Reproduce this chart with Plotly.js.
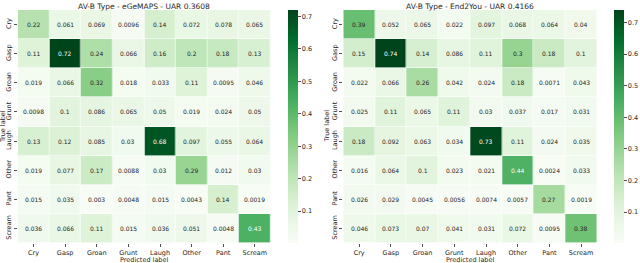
<!DOCTYPE html>
<html><head><meta charset="utf-8">
<script src="https://cdn.plot.ly/plotly-3.0.1.min.js"></script>
<style>html,body{margin:0;padding:0;background:#fff}#chart{width:640px;height:263px}</style>
</head><body><div id="chart"></div>
<script>
const labels = ["Cry","Gasp","Groan","Grunt","Laugh","Other","Pant","Scream"];
const egemaps = [
  [0.22, 0.061, 0.069, 0.0096, 0.14, 0.072, 0.078, 0.065],
  [0.11, 0.72, 0.24, 0.066, 0.16, 0.2, 0.18, 0.13],
  [0.019, 0.066, 0.32, 0.018, 0.033, 0.11, 0.0095, 0.046],
  [0.0098, 0.1, 0.086, 0.065, 0.05, 0.019, 0.024, 0.05],
  [0.13, 0.12, 0.085, 0.03, 0.68, 0.097, 0.055, 0.064],
  [0.019, 0.077, 0.17, 0.0088, 0.03, 0.29, 0.012, 0.03],
  [0.015, 0.035, 0.003, 0.0048, 0.015, 0.0043, 0.14, 0.0019],
  [0.036, 0.066, 0.11, 0.015, 0.036, 0.051, 0.0048, 0.43]
];
const end2you = [
  [0.39, 0.052, 0.065, 0.022, 0.097, 0.068, 0.064, 0.04],
  [0.15, 0.74, 0.14, 0.086, 0.11, 0.3, 0.18, 0.1],
  [0.022, 0.066, 0.26, 0.042, 0.024, 0.18, 0.0071, 0.043],
  [0.025, 0.11, 0.065, 0.11, 0.03, 0.037, 0.017, 0.031],
  [0.18, 0.092, 0.063, 0.034, 0.73, 0.11, 0.024, 0.035],
  [0.016, 0.064, 0.1, 0.023, 0.021, 0.44, 0.0024, 0.033],
  [0.026, 0.029, 0.0045, 0.0056, 0.0074, 0.0057, 0.27, 0.0019],
  [0.046, 0.073, 0.07, 0.041, 0.031, 0.072, 0.0095, 0.38]
];
const titles = ["AV-B Type - eGeMAPS - UAR 0.3608", "AV-B Type - End2You - UAR 0.4166"];
const xTitle = "Predicted label", yTitle = "True label";
const cbTicks = [0.1,0.2,0.3,0.4,0.5,0.6,0.7];

const greens = [[0,'#f7fcf5'],[0.125,'#e5f5e0'],[0.25,'#c7e9c0'],[0.375,'#a1d99b'],[0.5,'#74c476'],[0.625,'#41ab5d'],[0.75,'#238b45'],[0.875,'#006d2c'],[1,'#00441b']];
const FONT = 'DejaVu Sans, sans-serif';
const W=640,H=263;
const yBot = 1-243/H, yTop = 1-10/H;
const panels = [
  {m: egemaps, x0: 17.7/W, x1: 270.7/W, cbx: 288/W, ytx: 3.5/W, xa:'x', ya:'y'},
  {m: end2you, x0: 343.3/W, x1: 597/W, cbx: 614/W, ytx: 327/W, xa:'x2', ya:'y2'}
];
const fmt = v => String(Number(v.toPrecision(2)));
const tc = '#262626';
const FS = 6.5;

const data = [], annotations = [];
const layout = {
  width:W, height:H, margin:{l:0,r:0,t:0,b:0},
  paper_bgcolor:'#fff', plot_bgcolor:'#fff',
  font:{family:FONT, size:FS, color:tc},
  showlegend:false
};
panels.forEach((p,i)=>{
  const flat = p.m.flat();
  const zmin = Math.min(...flat), zmax = Math.max(...flat);
  data.push({
    type:'heatmap', z:p.m, x:labels, y:labels, xaxis:p.xa, yaxis:p.ya,
    colorscale:greens, zmin:zmin, zmax:zmax, xgap:0.6, ygap:0.6,
    hoverinfo:'skip',
    colorbar:{x:p.cbx, xanchor:'left', xref:'paper', y:yBot, yanchor:'bottom', len:yTop-yBot, lenmode:'fraction',
      thickness:10, thicknessmode:'pixels', outlinewidth:0, tickvals:cbTicks, ticktext:cbTicks.map(String),
      ticks:'outside', ticklen:3, tickwidth:0.8, tickcolor:tc, tickfont:{size:FS, family:FONT, color:tc}, xpad:0, ypad:0}
  });
  const sfx = i===0 ? '' : '2';
  layout['xaxis'+sfx] = {domain:[p.x0,p.x1], anchor:'y'+sfx, showgrid:false, zeroline:false, showline:false,
    ticks:'outside', ticklen:3, tickwidth:0.8, tickcolor:tc, tickfont:{size:FS,family:FONT,color:tc}};
  layout['yaxis'+sfx] = {domain:[yBot,yTop], anchor:'x'+sfx, autorange:'reversed', showgrid:false, zeroline:false, showline:false,
    ticks:'outside', ticklen:3, tickwidth:0.8, tickcolor:tc, tickangle:-90, tickfont:{size:FS,family:FONT,color:tc}};
  annotations.push({xref:'paper', yref:'paper', x:(p.x0+p.x1)/2, y:1-0.5/H, xanchor:'center', yanchor:'top',
    text:titles[i], showarrow:false, font:{size:7.5,family:FONT,color:tc}});
  annotations.push({xref:'paper', yref:'paper', x:(p.x0+p.x1)/2, y:1-259.5/H, xanchor:'center', yanchor:'middle',
    text:xTitle, showarrow:false, font:{size:FS,family:FONT,color:tc}});
  annotations.push({xref:'paper', yref:'paper', x:p.ytx, y:(yBot+yTop)/2, xanchor:'center', yanchor:'middle',
    text:yTitle, textangle:-90, showarrow:false, font:{size:FS,family:FONT,color:tc}});
  p.m.forEach((row,r)=>row.forEach((v,c)=>{
    const t = (v - zmin)/(zmax-zmin);
    annotations.push({xref:p.xa, yref:p.ya, x:labels[c], y:labels[r], text:fmt(v), showarrow:false,
      font:{size:6, family:FONT, color: t>0.56 ? '#ffffff' : tc}});
  }));
});
layout.annotations = annotations;
Plotly.newPlot('chart', data, layout, {staticPlot:true});
</script></body></html>
